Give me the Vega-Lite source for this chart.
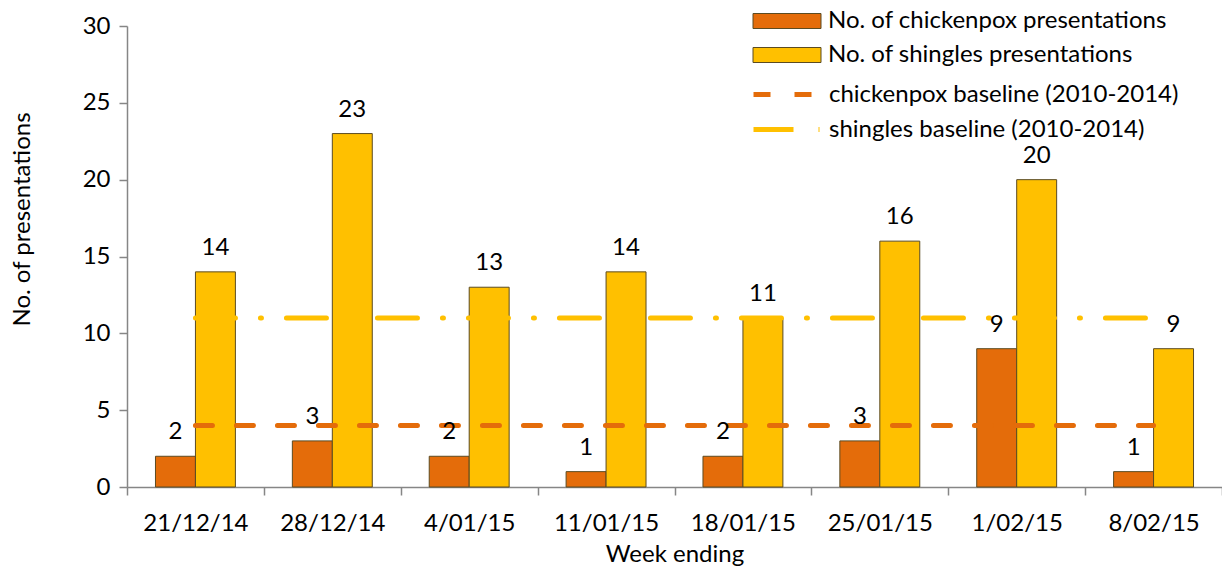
{
  "$schema": "https://vega.github.io/schema/vega-lite/v6.json",
  "width": 1095,
  "height": 461,
  "autosize": {"type": "none"},
  "padding": {"left": 127, "top": 26, "right": 0, "bottom": 79},
  "background": "white",
  "config": {
    "font": "Lato",
    "view": {"stroke": null},
    "axis": {"grid": false},
    "legend": {"padding": 0, "labelFontSize": 24, "labelColor": "black", "labelLimit": 600, "rowPadding": 10}
  },
  "data": {
    "values": [
      {"week": "21/12/14", "series": "No. of chickenpox presentations", "value": 2},
      {"week": "28/12/14", "series": "No. of chickenpox presentations", "value": 3},
      {"week": "4/01/15", "series": "No. of chickenpox presentations", "value": 2},
      {"week": "11/01/15", "series": "No. of chickenpox presentations", "value": 1},
      {"week": "18/01/15", "series": "No. of chickenpox presentations", "value": 2},
      {"week": "25/01/15", "series": "No. of chickenpox presentations", "value": 3},
      {"week": "1/02/15", "series": "No. of chickenpox presentations", "value": 9},
      {"week": "8/02/15", "series": "No. of chickenpox presentations", "value": 1},
      {"week": "21/12/14", "series": "No. of shingles presentations", "value": 14},
      {"week": "28/12/14", "series": "No. of shingles presentations", "value": 23},
      {"week": "4/01/15", "series": "No. of shingles presentations", "value": 13},
      {"week": "11/01/15", "series": "No. of shingles presentations", "value": 14},
      {"week": "18/01/15", "series": "No. of shingles presentations", "value": 11},
      {"week": "25/01/15", "series": "No. of shingles presentations", "value": 16},
      {"week": "1/02/15", "series": "No. of shingles presentations", "value": 20},
      {"week": "8/02/15", "series": "No. of shingles presentations", "value": 9},
      {"week": "21/12/14", "series": "chickenpox baseline (2010-2014)", "value": 4},
      {"week": "28/12/14", "series": "chickenpox baseline (2010-2014)", "value": 4},
      {"week": "4/01/15", "series": "chickenpox baseline (2010-2014)", "value": 4},
      {"week": "11/01/15", "series": "chickenpox baseline (2010-2014)", "value": 4},
      {"week": "18/01/15", "series": "chickenpox baseline (2010-2014)", "value": 4},
      {"week": "25/01/15", "series": "chickenpox baseline (2010-2014)", "value": 4},
      {"week": "1/02/15", "series": "chickenpox baseline (2010-2014)", "value": 4},
      {"week": "8/02/15", "series": "chickenpox baseline (2010-2014)", "value": 4},
      {"week": "21/12/14", "series": "shingles baseline (2010-2014)", "value": 11},
      {"week": "28/12/14", "series": "shingles baseline (2010-2014)", "value": 11},
      {"week": "4/01/15", "series": "shingles baseline (2010-2014)", "value": 11},
      {"week": "11/01/15", "series": "shingles baseline (2010-2014)", "value": 11},
      {"week": "18/01/15", "series": "shingles baseline (2010-2014)", "value": 11},
      {"week": "25/01/15", "series": "shingles baseline (2010-2014)", "value": 11},
      {"week": "1/02/15", "series": "shingles baseline (2010-2014)", "value": 11},
      {"week": "8/02/15", "series": "shingles baseline (2010-2014)", "value": 11}
    ]
  },
  "encoding": {
    "x": {
      "field": "week",
      "type": "nominal",
      "sort": null,
      "scale": {"paddingInner": 0, "paddingOuter": 0},
      "axis": {
        "title": "Week ending",
        "labelAngle": 0,
        "tickBand": "extent",
        "tickSize": 8,
        "tickWidth": 1.5,
        "tickColor": "#868686",
        "domainColor": "#868686",
        "domainWidth": 1.5,
        "labelFontSize": 24,
        "labelColor": "black",
        "labelPadding": 16,
        "titleFontSize": 24,
        "titleFontWeight": "normal",
        "titleColor": "black",
        "titleBaseline": "alphabetic",
        "titleY": 74
      }
    },
    "y": {
      "field": "value",
      "type": "quantitative",
      "scale": {"domain": [0, 30], "nice": false},
      "axis": {
        "title": "No. of presentations",
        "values": [0, 5, 10, 15, 20, 25, 30],
        "tickSize": 8,
        "tickWidth": 1.5,
        "tickColor": "#868686",
        "domainColor": "#868686",
        "domainWidth": 1.5,
        "labelFontSize": 24,
        "labelColor": "black",
        "labelPadding": 9,
        "titleFontSize": 24,
        "titleFontWeight": "normal",
        "titleColor": "black",
        "titleX": -93,
        "titleY": 193
      }
    }
  },
  "layer": [
    {
      "transform": [{"filter": {"field": "series", "oneOf": ["No. of chickenpox presentations", "No. of shingles presentations"]}}],
      "mark": {"type": "bar", "stroke": "#5b4b22", "strokeWidth": 1},
      "encoding": {
        "xOffset": {
          "field": "series",
          "scale": {"domain": ["No. of chickenpox presentations", "No. of shingles presentations"], "paddingInner": 0, "paddingOuter": 0.7125}
        },
        "color": {
          "field": "series",
          "type": "nominal",
          "scale": {
            "domain": ["No. of chickenpox presentations", "No. of shingles presentations"],
            "range": ["#E46C0A", "#FFC000"]
          },
          "legend": {
            "title": null,
            "orient": "none",
            "legendX": 648,
            "legendY": -17,
            "symbolType": "M-3.4,-0.75H3.4V0.75H-3.4Z",
            "symbolSize": 400,
            "symbolStrokeColor": "#5b4b22",
            "symbolStrokeWidth": 1,
            "labelOffset": 29
          }
        }
      }
    },
    {
      "transform": [{"filter": {"field": "series", "oneOf": ["chickenpox baseline (2010-2014)", "shingles baseline (2010-2014)"]}}],
      "mark": {"type": "line", "strokeWidth": 5, "strokeCap": "round"},
      "encoding": {
        "stroke": {
          "field": "series",
          "type": "nominal",
          "scale": {
            "domain": ["chickenpox baseline (2010-2014)", "shingles baseline (2010-2014)"],
            "range": ["#E46C0A", "#FFC000"]
          },
          "legend": {
            "title": null,
            "orient": "none",
            "legendX": 648,
            "legendY": 56,
            "symbolType": "M-3.4,0H3.4",
            "symbolSize": 400,
            "symbolStrokeWidth": 5,
            "labelOffset": 29
          }
        },
        "strokeDash": {
          "field": "series",
          "type": "nominal",
          "scale": {
            "domain": ["chickenpox baseline (2010-2014)", "shingles baseline (2010-2014)"],
            "range": [[17, 24], [40, 25, 1, 25]]
          },
          "legend": {
            "title": null,
            "orient": "none",
            "legendX": 648,
            "legendY": 56,
            "symbolType": "M-3.4,0H3.4",
            "symbolSize": 400,
            "symbolStrokeWidth": 5,
            "labelOffset": 29
          }
        }
      }
    },
    {
      "transform": [{"filter": {"field": "series", "equal": "No. of chickenpox presentations"}}],
      "mark": {"type": "text", "dy": -24, "fontSize": 24, "color": "black"},
      "encoding": {
        "xOffset": {"field": "series"},
        "text": {"field": "value", "type": "quantitative"}
      }
    },
    {
      "transform": [{"filter": {"field": "series", "equal": "No. of shingles presentations"}}],
      "mark": {"type": "text", "dy": -24, "fontSize": 24, "color": "black"},
      "encoding": {
        "xOffset": {"field": "series"},
        "text": {"field": "value", "type": "quantitative"}
      }
    }
  ]
}
